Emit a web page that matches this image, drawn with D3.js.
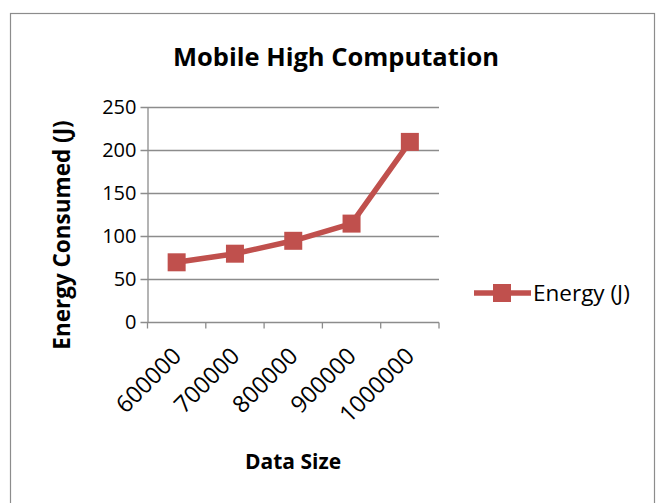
<!DOCTYPE html>
<html>
<head>
<meta charset="utf-8">
<script src="https://cdn.jsdelivr.net/npm/d3@7"></script>
<style>
  body { margin: 0; background: #fff; }
  text { font-family: "Open Sans", sans-serif; fill: #000; }
</style>
</head>
<body>
<div id="okvir"></div>
<script>
// podaci
const kategorije = ["600000", "700000", "800000", "900000", "1000000"]
const energija = [70, 80, 95, 115, 210]
const yTicks = [0, 50, 100, 150, 200, 250]

const dim = {
  sirina: 662,
  visina: 503,
  margine: { top: 107.5, left: 147.5, right: 223, bottom: 180.5 }
}
dim.grSirina = dim.sirina - dim.margine.left - dim.margine.right
dim.grVisina = dim.visina - dim.margine.top - dim.margine.bottom

const boja = "#C0504D"

const svg = d3.select("#okvir").append("svg")
  .attr("width", dim.sirina)
  .attr("height", dim.visina)

// okvir grafikona
svg.append("rect")
  .attr("x", 10.5).attr("y", 13.5)
  .attr("width", 644).attr("height", 500)
  .attr("fill", "#fff")
  .attr("stroke", "#8c8c8c")
  .attr("stroke-width", 1.2)

svg.append("text")
  .attr("x", 336).attr("y", 66)
  .attr("text-anchor", "middle")
  .style("font-size", "25.5px").style("font-weight", "bold")
  .text("Mobile High Computation")

const g = svg.append("g")
  .attr("transform", `translate(${dim.margine.left},${dim.margine.top})`)

const x = d3.scaleBand()
  .domain(kategorije)
  .range([0, dim.grSirina])

const y = d3.scaleLinear()
  .domain([0, 250])
  .range([dim.grVisina, 0])

// mreza
g.append("g")
  .selectAll("line")
  .data(yTicks)
  .join("line")
    .attr("x1", -7).attr("x2", dim.grSirina)
    .attr("y1", d => y(d)).attr("y2", d => y(d))
    .attr("stroke", "#8c8c8c")
    .attr("stroke-width", 1.3)

// y os
const yOs = g.append("g")
  .call(d3.axisLeft(y).tickValues(yTicks).tickSize(0).tickPadding(11))
yOs.select(".domain").attr("stroke", "#8c8c8c").attr("stroke-width", 1.3)
yOs.selectAll("text")
  .style("font-size", "20px")
  .style("font-family", "'Open Sans', sans-serif")
  .attr("fill", "#000")

// x os
const xOs = g.append("g")
  .attr("transform", `translate(0,${dim.grVisina})`)
  .call(d3.axisBottom(x).tickSize(0).tickFormat(""))
xOs.select(".domain").remove()
const granice = [0].concat(kategorije.map(k => x(k) + x.bandwidth()))
xOs.selectAll(".granica")
  .data(granice)
  .join("line")
    .attr("class", "granica")
    .attr("x1", d => d).attr("x2", d => d)
    .attr("y1", 0).attr("y2", 6)
    .attr("stroke", "#8c8c8c").attr("stroke-width", 1.3)

xOs.selectAll(".oznaka")
  .data(kategorije)
  .join("text")
    .attr("class", "oznaka")
    .attr("transform", d => `translate(${x(d) + x.bandwidth() / 2 + 6},${35}) rotate(-45)`)
    .attr("text-anchor", "end")
    .style("font-size", "23.5px")
    .text(d => d)

// linija
const linija = d3.line()
  .x((d, i) => x(kategorije[i]) + x.bandwidth() / 2)
  .y(d => y(d))

g.append("path")
  .datum(energija)
  .attr("d", linija)
  .attr("fill", "none")
  .attr("stroke", boja)
  .attr("stroke-width", 5.5)
  .attr("stroke-linejoin", "round")

const vel = 18
g.selectAll(".marker")
  .data(energija)
  .join("rect")
    .attr("class", "marker")
    .attr("x", (d, i) => x(kategorije[i]) + x.bandwidth() / 2 - vel / 2)
    .attr("y", d => y(d) - vel / 2)
    .attr("width", vel).attr("height", vel)
    .attr("fill", boja)

// naslovi osi
svg.append("text")
  .attr("transform", `translate(70,235) rotate(-90)`)
  .attr("text-anchor", "middle")
  .style("font-size", "22.5px").style("font-weight", "bold")
  .text("Energy Consumed (J)")

svg.append("text")
  .attr("x", 293).attr("y", 469)
  .attr("text-anchor", "middle")
  .style("font-size", "21px").style("font-weight", "bold")
  .text("Data Size")

// legenda
const leg = svg.append("g").attr("transform", "translate(474,293)")
leg.append("line")
  .attr("x1", 0).attr("x2", 57)
  .attr("stroke", boja).attr("stroke-width", 5.5)
leg.append("rect")
  .attr("x", 19).attr("y", -9).attr("width", 18).attr("height", 18)
  .attr("fill", boja)
leg.append("text")
  .attr("x", 59).attr("y", 8)
  .style("font-size", "22.5px")
  .text("Energy (J)")
</script>
</body>
</html>
